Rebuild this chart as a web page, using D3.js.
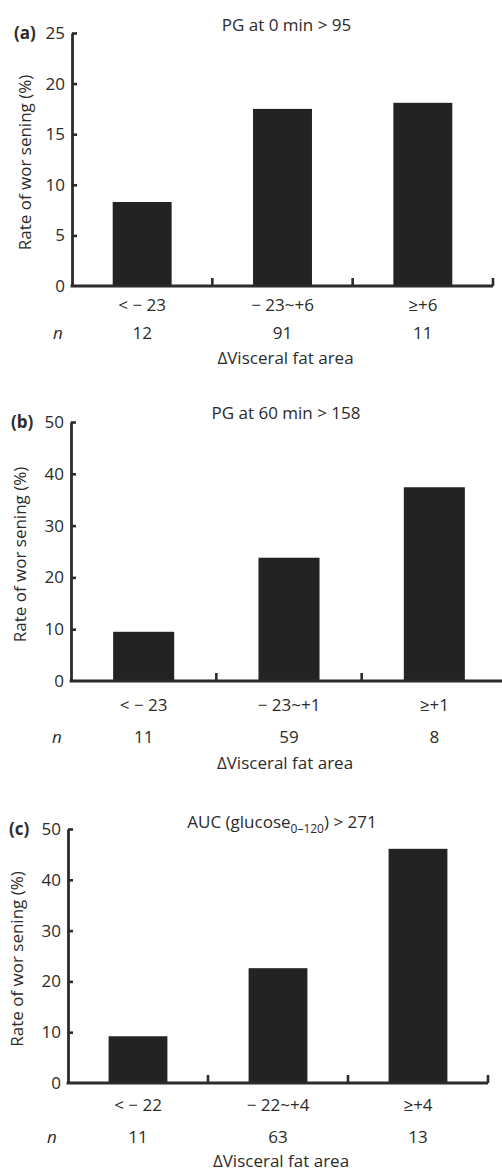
<!DOCTYPE html>
<html>
<head>
<meta charset="utf-8">
<script src="https://cdn.jsdelivr.net/npm/d3@7"></script>
<style>
  body { margin: 0; background: #fff; }
  svg text { font-family: "Open Sans", sans-serif; fill: #2b2b2b; }
</style>
</head>
<body>
<svg id="chart" width="502" height="1173"></svg>
<script>
// data
let panelTags = ["(a)", "(b)", "(c)"];
let titles = ["PG at 0 min > 95", "PG at 60 min > 158", "AUC (glucose|0\u2013120|) > 271"];
let categories = [
  ["< \u2212 23", "\u2212 23~+6", "\u2265+6"],
  ["< \u2212 23", "\u2212 23~+1", "\u2265+1"],
  ["< \u2212 22", "\u2212 22~+4", "\u2265+4"]
];
let rates = [
  [8.3, 17.5, 18.1],
  [9.5, 23.8, 37.4],
  [9.2, 22.6, 46.1]
];
let counts = [
  [12, 91, 11],
  [11, 59, 8],
  [11, 63, 13]
];
let yMax = [25, 50, 50];
let yTicks = [[0, 5, 10, 15, 20, 25], [0, 10, 20, 30, 40, 50], [0, 10, 20, 30, 40, 50]];

// layout of each panel on the page
let layout = [
  {x0: 72, x1: 493, top: 33, zero: 286, cat: 25, n: 53, lab: 78, nx: 58, ylx: 25, tagx: 14, tity: -2},
  {x0: 71, x1: 507, top: 422, zero: 681, cat: 30, n: 62, lab: 88, nx: 57, ylx: 20, tagx: 11, tity: -3},
  {x0: 68, x1: 488, top: 829, zero: 1083, cat: 28, n: 60, lab: 84, nx: 52, ylx: 17, tagx: 9, tity: -1}
];

let barColor = "#232323", axisColor = "#2b2b2b";
let font_size = 17;

let svg = d3.select("#chart");

function render_panel(i) {
  let L = layout[i];
  let g = svg.append("g").attr("class", "panel");

  let x = d3.scaleBand()
    .domain(categories[i])
    .range([L.x0, L.x1])
    .paddingInner(0.58)
    .paddingOuter(0.29);

  let y = d3.scaleLinear()
    .domain([0, yMax[i]])
    .range([L.zero, L.top]);

  // bars
  g.selectAll(".bar")
    .data(rates[i])
    .enter()
    .append("rect")
    .attr("class", "bar")
    .attr("x", (d, k) => x(categories[i][k]))
    .attr("width", x.bandwidth())
    .attr("y", d => y(d))
    .attr("height", d => y(0) - y(d))
    .attr("fill", barColor);

  // y axis, ticks point inwards
  let yAxis = g.append("g")
    .attr("transform", `translate(${L.x0},0)`)
    .call(d3.axisLeft(y).tickValues(yTicks[i]).tickSizeInner(-5).tickSizeOuter(0).tickPadding(7));
  yAxis.select(".domain").attr("stroke", axisColor).attr("stroke-width", 2.8);
  yAxis.selectAll(".tick line").attr("stroke", axisColor).attr("stroke-width", 2.6);
  yAxis.selectAll(".tick text")
    .style("font-size", font_size + "px")
    .attr("fill", "#2b2b2b");
  yAxis.selectAll(".tick").filter(d => d == 0).select("line").remove();

  // x axis line
  g.append("line")
    .attr("x1", L.x0 - 1.4)
    .attr("x2", L.x1)
    .attr("y1", y(0))
    .attr("y2", y(0))
    .attr("stroke", axisColor)
    .attr("stroke-width", 2.8);

  // category separator ticks
  let seps = categories[i].map((c, k) => L.x0 + x.step() * (k + 1));
  g.selectAll(".sep")
    .data(seps)
    .enter()
    .append("line")
    .attr("x1", d => d)
    .attr("x2", d => d)
    .attr("y1", y(0))
    .attr("y2", y(0) - 8)
    .attr("stroke", axisColor)
    .attr("stroke-width", 2.6);

  // category labels and n
  g.selectAll(".cat")
    .data(categories[i])
    .enter()
    .append("text")
    .attr("x", d => x(d) + x.bandwidth() / 2)
    .attr("y", L.zero + L.cat)
    .attr("text-anchor", "middle")
    .style("font-size", font_size + "px")
    .text(d => d);

  g.selectAll(".cnt")
    .data(counts[i])
    .enter()
    .append("text")
    .attr("x", (d, k) => x(categories[i][k]) + x.bandwidth() / 2)
    .attr("y", L.zero + L.n)
    .attr("text-anchor", "middle")
    .style("font-size", font_size + "px")
    .text(d => d);

  g.append("text")
    .attr("x", L.nx)
    .attr("y", L.zero + L.n)
    .attr("text-anchor", "middle")
    .style("font-size", font_size + "px")
    .style("font-style", "italic")
    .text("n");

  g.append("text")
    .attr("x", (L.x0 + Math.min(L.x1, 493)) / 2 + 3)
    .attr("y", L.zero + L.lab)
    .attr("text-anchor", "middle")
    .style("font-size", font_size + "px")
    .text("\u0394Visceral fat area");

  // y label
  g.append("text")
    .attr("transform", `translate(${L.ylx},${(L.top + L.zero) / 2 + 3}) rotate(-90)`)
    .attr("text-anchor", "middle")
    .attr("dy", "0.35em")
    .style("font-size", font_size + "px")
    .text("Rate of wor sening (%)");

  // panel tag
  g.append("text")
    .attr("x", L.tagx)
    .attr("y", L.top + 6)
    .style("font-size", font_size + "px")
    .style("font-weight", "bold")
    .text(panelTags[i]);

  // title, with optional subscript between bars
  let parts = titles[i].split("|");
  let t = g.append("text")
    .attr("x", (L.x0 + Math.min(L.x1, 493)) / 2 + 4)
    .attr("y", L.top + L.tity)
    .attr("text-anchor", "middle")
    .style("font-size", font_size + "px");
  parts.forEach((p, k) => {
    let s = t.append("tspan").text(p);
    if (k % 2 == 1) {
      s.style("font-size", "12px").attr("dy", 5);
    } else if (k > 0) {
      s.attr("dy", -5);
    }
  });
}

layout.forEach((d, i) => render_panel(i));
</script>
</body>
</html>
